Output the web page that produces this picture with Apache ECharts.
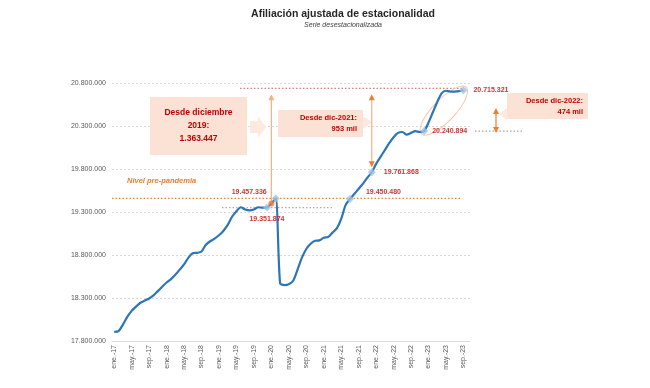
<!DOCTYPE html>
<html><head><meta charset="utf-8">
<script src="https://cdn.jsdelivr.net/npm/echarts@6/dist/echarts.min.js"></script>
<style>html,body{margin:0;padding:0;background:#fff}#c{width:650px;height:388px}</style>
</head><body><div id="c"></div>
<script>
const categories = [
 'ene.-17','feb.-17','mar.-17','abr.-17','may.-17','jun.-17','jul.-17','ago.-17','sep.-17','oct.-17','nov.-17','dic.-17',
 'ene.-18','feb.-18','mar.-18','abr.-18','may.-18','jun.-18','jul.-18','ago.-18','sep.-18','oct.-18','nov.-18','dic.-18',
 'ene.-19','feb.-19','mar.-19','abr.-19','may.-19','jun.-19','jul.-19','ago.-19','sep.-19','oct.-19','nov.-19','dic.-19',
 'ene.-20','feb.-20','mar.-20','abr.-20','may.-20','jun.-20','jul.-20','ago.-20','sep.-20','oct.-20','nov.-20','dic.-20',
 'ene.-21','feb.-21','mar.-21','abr.-21','may.-21','jun.-21','jul.-21','ago.-21','sep.-21','oct.-21','nov.-21','dic.-21',
 'ene.-22','feb.-22','mar.-22','abr.-22','may.-22','jun.-22','jul.-22','ago.-22','sep.-22','oct.-22','nov.-22','dic.-22',
 'ene.-23','feb.-23','mar.-23','abr.-23','may.-23','jun.-23','jul.-23','ago.-23','sep.-23','oct.-23'
];
const afiliacion = [
 17905000,17915000,17990000,18080000,18150000,18200000,18245000,18270000,18295000,18330000,18380000,18430000,
 18480000,18520000,18570000,18630000,18690000,18770000,18820000,18825000,18840000,18920000,18960000,18990000,
 19030000,19080000,19150000,19245000,19310000,19355000,19330000,19320000,19330000,19355000,19350000,19351874,
 19400000,19457336,18470000,18450000,18460000,18500000,18630000,18770000,18870000,18930000,18965000,18970000,
 19000000,19010000,19060000,19110000,19220000,19380000,19450480,19510000,19570000,19630000,19700000,19761868,
 19860000,19940000,20020000,20100000,20170000,20220000,20230000,20200000,20220000,20240000,20230000,20240894,
 20340000,20460000,20580000,20680000,20710000,20700000,20700000,20705000,20715321,null
];
// highlighted months (light-blue diamonds)
const hitosCat = ['dic.-19','feb.-20','jul.-21','dic.-21','dic.-22','sep.-23'];
const hitosVal = [19351874,19457336,19450480,19761868,20240894,20715321];
// orange marker month
const eneroCat = 'ene.-20';
const nivelPrePandemia = 19457336;
const yMin = 17800000, yMax = 20800000, yStep = 500000;

const fmt = v => Math.round(v).toString().replace(/\B(?=(\d{3})+(?!\d))/g, '.');
const labelCfg = [
  {position:'bottom', distance:4, offset:[0,0]},
  {position:'left', distance:4, offset:[-1,-6]},
  {position:'right', distance:12, offset:[0,-7]},
  {position:'right', distance:8, offset:[0,0]},
  {position:'right', distance:4, offset:[0,0]},
  {position:'right', distance:6, offset:[0,0]}
];
const RED = '#c00000';
const chart = echarts.init(document.getElementById('c'));
const option = {
  animation:false,
  backgroundColor:'#fff',
  grid:{left:112, right:180, top:83, bottom:47},
  xAxis:{type:'category', data:categories, boundaryGap:true,
    axisLine:{lineStyle:{color:'#d9d9d9'}},
    axisTick:{interval:3, length:3, lineStyle:{color:'#bfbfbf'}},
    axisLabel:{interval:3, rotate:90, fontSize:7, color:'#595959', fontFamily:'Liberation Sans', margin:4}},
  yAxis:{type:'value', min:yMin, max:yMax, interval:yStep,
    axisLine:{show:false}, axisTick:{show:false},
    splitLine:{lineStyle:{color:'#d9d9d9', type:[2,2]}},
    axisLabel:{formatter:fmt, fontSize:7, color:'#595959', fontFamily:'Liberation Sans', margin:6}},
  series:[
    {type:'line', data:afiliacion, symbol:'none', smooth:0.25, z:3,
     lineStyle:{color:'#2e75b6', width:2.2}},
    {type:'scatter', z:5, symbol:'diamond', symbolSize:8,
     itemStyle:{color:'#9dc3e6'},
     data:hitosCat.map((c,i)=>({value:[c,hitosVal[i]], label:Object.assign({show:true, formatter:fmt(hitosVal[i])}, labelCfg[i])})),
     label:{color:RED, fontSize:7, fontWeight:'bold', fontFamily:'Liberation Sans'}},
    {type:'scatter', z:6, symbol:'circle', symbolSize:6, itemStyle:{color:'#ed7d31'},
     data:[[eneroCat, afiliacion[categories.indexOf(eneroCat)]]]}
  ]
};
chart.setOption(option);

const P = (c,v) => chart.convertToPixel({xAxisIndex:0, yAxisIndex:0}, [c,v]);
const yPre = P(eneroCat, nivelPrePandemia)[1];
const yTop = P(eneroCat, hitosVal[5])[1];
const yDic19 = P(eneroCat, hitosVal[0])[1];
const yDic22 = P(eneroCat, hitosVal[4])[1];
const xEne20 = P(eneroCat, 0)[0];
const yEne20 = P(eneroCat, afiliacion[categories.indexOf(eneroCat)])[1];
const xDic21 = P('dic.-21', 0)[0];
const yDic21 = P('dic.-21', hitosVal[3])[1];
const xSep23 = P('sep.-23', 0)[0];
const pDic22 = P('dic.-22', hitosVal[4]);
const pSep23 = P('sep.-23', hitosVal[5]);

function dotted(x1,y,x2,color){
  return {type:'line', shape:{x1:x1,y1:y,x2:x2,y2:y}, style:{stroke:color, lineWidth:1.2, lineDash:[1.5,2]}, z:2};
}
function head(x,y,dir,color){ // dir -1 up, 1 down
  return {type:'polygon', shape:{points:[[x-3,y-dir*6],[x+3,y-dir*6],[x,y]]}, style:{fill:color}, z:4};
}
function vline(x,y1,y2,color){
  return {type:'line', shape:{x1:x,y1:y1,x2:x,y2:y2}, style:{stroke:color, lineWidth:1.2}, z:4};
}
const PEACH = '#fbe2d5', ARROW='#f4b183', ORANGE='#ed7d31';
const ecx = (pDic22[0]+pSep23[0])/2, ecy = (pDic22[1]+pSep23[1])/2;
const eang = Math.atan2(pSep23[0]-pDic22[0], pDic22[1]-pSep23[1]);
const elen = Math.hypot(pSep23[0]-pDic22[0], pSep23[1]-pDic22[1]);
const graphics = [
  {type:'text', style:{x:343, y:14, text:'Afiliación ajustada de estacionalidad', fontSize:10.5, fontWeight:'bold', fontFamily:'Liberation Sans', fill:'#262626', align:'center', verticalAlign:'middle'}},
  {type:'text', style:{x:343, y:25, text:'Serie desestacionalizada', fontSize:7, fontStyle:'italic', fontFamily:'Liberation Sans', fill:'#404040', align:'center', verticalAlign:'middle'}},
  dotted(112, yPre, xSep23-3, ORANGE),
  {type:'text', style:{x:127, y:181, text:'Nivel pre-pandemia', fontSize:7.5, fontStyle:'italic', fontWeight:'bold', fontFamily:'Liberation Sans', fill:ORANGE, verticalAlign:'middle'}},
  dotted(240, yTop-2, xSep23, '#d58080'),
  dotted(222, yDic19, 333, '#c9a3a3'),
  dotted(475, yDic22, 522, '#a6a6a6'),
  // arrow 1
  vline(xEne20, yEne20, yTop+6, ARROW), head(xEne20, yTop+4, -1, ARROW),
  // arrow 2
  vline(xDic21, yDic21-6, yTop+6, ARROW), head(xDic21, yTop+4, -1, ORANGE), head(xDic21, yDic21-5, 1, ORANGE),
  // arrow 3
  vline(496, 110, 131, ORANGE), head(496, 108, -1, ORANGE), head(496, 133, 1, ORANGE),
  // box 1
  {type:'rect', shape:{x:150, y:97, width:97, height:58}, style:{fill:PEACH}, z:1},
  {type:'text', style:{x:198.5, y:126, text:'Desde diciembre\n2019:\n1.363.447', fontSize:8.5, lineHeight:13, fontWeight:'bold', fontFamily:'Liberation Sans', fill:RED, align:'center', verticalAlign:'middle'}, z:2},
  {type:'polygon', shape:{points:[[250,121],[258,121],[258,116],[266,127],[258,138],[258,133],[250,133]]}, style:{fill:'#fde9df'}, z:1},
  // box 2
  {type:'rect', shape:{x:278, y:110, width:85, height:27}, style:{fill:PEACH}, z:1},
  {type:'polygon', shape:{points:[[363,116],[372,122],[363,129]]}, style:{fill:'#fde9df'}, z:1},
  {type:'text', style:{x:357, y:123.5, text:'Desde dic-2021:\n953 mil', fontSize:7.5, lineHeight:11, fontWeight:'bold', fontFamily:'Liberation Sans', fill:RED, align:'right', verticalAlign:'middle'}, z:2},
  // box 3
  {type:'rect', shape:{x:507, y:93, width:81, height:26}, style:{fill:PEACH}, z:1},
  {type:'polygon', shape:{points:[[507,108],[499,114],[507,120]]}, style:{fill:'#fde9df'}, z:1},
  {type:'text', style:{x:583, y:106, text:'Desde dic-2022:\n474 mil', fontSize:7.5, lineHeight:11, fontWeight:'bold', fontFamily:'Liberation Sans', fill:RED, align:'right', verticalAlign:'middle'}, z:2},
  // ellipse around the 2023 rise
  {type:'ellipse', x:ecx, y:ecy, rotation:-eang, shape:{cx:0, cy:0, rx:11, ry:elen/2+4}, style:{fill:'none', stroke:'#f4c7a8', lineWidth:1}, z:2}
];
chart.setOption({graphic:graphics});
</script></body></html>
